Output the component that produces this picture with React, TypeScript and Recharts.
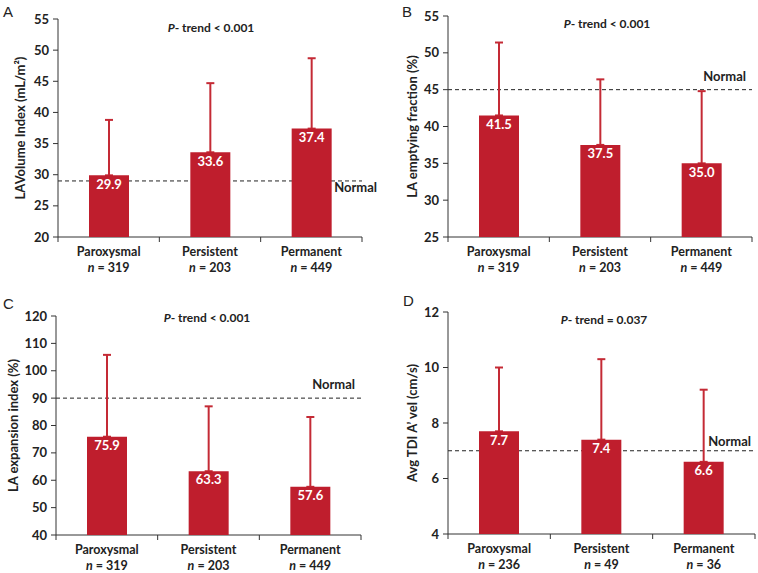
import React from 'react';
import { BarChart, Bar, XAxis, YAxis, ReferenceLine, ErrorBar, LabelList, Label } from 'recharts';

const CATEGORIES = ['Paroxysmal', 'Persistent', 'Permanent'];
const N_ABC = [319, 203, 449];
const N_D = [236, 49, 36];

const LAVI_MEAN = [29.9, 33.6, 37.4];
const LAVI_SD = [8.9, 11.1, 11.3];
const LAVI_TICKS = [20, 25, 30, 35, 40, 45, 50, 55];

const LAEF_MEAN = [41.5, 37.5, 35.0];
const LAEF_SD = [9.9, 8.9, 9.8];
const LAEF_TICKS = [25, 30, 35, 40, 45, 50, 55];

const LAEI_MEAN = [75.9, 63.3, 57.6];
const LAEI_SD = [29.9, 23.7, 25.5];
const LAEI_TICKS = [40, 50, 60, 70, 80, 90, 100, 110, 120];

const TDI_MEAN = [7.7, 7.4, 6.6];
const TDI_SD = [2.3, 2.9, 2.6];
const TDI_TICKS = [4, 6, 8, 10, 12];

const FONT = 'Lato, "Open Sans", sans-serif';
const BAR_RED = '#BF1E2D';
const ERR_RED = '#C42A35';
const INK = '#222';

const buildData = (means: number[], sds: number[], ns: number[]) =>
  means.map((m, i) => ({ x: i + 0.5, mean: m, err: [0, sds[i]], name: CATEGORIES[i], n: ns[i] }));

const panels = [
  {
    letter: 'A', left: 0, top: 0, height: 286,
    margin: { top: 19, right: 17, bottom: 19, left: 8 },
    data: buildData(LAVI_MEAN, LAVI_SD, N_ABC), ticks: LAVI_TICKS, normal: 29,
    yLabel: 'LAVolume Index (mL/m²)', yLabelX: 20,
    normalDx: 15, normalDy: 11, trend: '< 0.001', trendX: 211, trendY: 28,
    letterX: 3, letterY: 4,
  },
  {
    letter: 'B', left: 379, top: 0, height: 286,
    margin: { top: 16, right: 6, bottom: 19, left: 19 },
    data: buildData(LAEF_MEAN, LAEF_SD, N_ABC), ticks: LAEF_TICKS, normal: 45,
    yLabel: 'LA emptying fraction (%)', yLabelX: 33,
    normalDx: -6, normalDy: -9, trend: '< 0.001', trendX: 228, trendY: 24,
    letterX: 23, letterY: 4,
  },
  {
    letter: 'C', left: 0, top: 285, height: 288,
    margin: { top: 31, right: 18, bottom: 8, left: 6 },
    data: buildData(LAEI_MEAN, LAEI_SD, N_ABC), ticks: LAEI_TICKS, normal: 90,
    yLabel: 'LA expansion index (%)', yLabelX: 13,
    normalDx: -6, normalDy: -9, trend: '< 0.001', trendX: 207, trendY: 33,
    letterX: 3, letterY: 11,
  },
  {
    letter: 'D', left: 379, top: 285, height: 288,
    margin: { top: 27, right: 3, bottom: 9, left: 19 },
    data: buildData(TDI_MEAN, TDI_SD, N_D), ticks: TDI_TICKS, normal: 7,
    yLabel: 'Avg TDI A’ vel (cm/s)', yLabelX: 33,
    normalDx: -4, normalDy: -5, trend: '= 0.037', trendX: 225, trendY: 35,
    letterX: 24, letterY: 8,
  },
];

const WIDTH = 379;
const Y_AXIS_W = 50;
const X_AXIS_H = 30;

const XTick = (props: any) => {
  const { x, y, payload, catW, data } = props;
  const i = payload.value;
  if (i >= 3) return <g />;
  const d = data[i];
  const cx = x + catW / 2;
  return (
    <text x={cx} y={y} textAnchor="middle" fontFamily={FONT} fontWeight={700} fontSize={12.5} fill={INK}>
      <tspan x={cx} dy={12}>{d.name}</tspan>
      <tspan x={cx} dy={16}><tspan fontStyle="italic">n</tspan> = {d.n}</tspan>
    </text>
  );
};

const Panel = ({ p }: { p: any }) => {
  const plotW = WIDTH - p.margin.left - p.margin.right - Y_AXIS_W;
  const catW = plotW / 3;
  const min = p.ticks[0];
  const max = p.ticks[p.ticks.length - 1];
  // bars sit in a second chart laid over the first, so they hide the dashed normal line
  const topMargin = {
    top: p.margin.top,
    right: p.margin.right,
    bottom: p.margin.bottom + X_AXIS_H,
    left: p.margin.left + Y_AXIS_W,
  };
  return (
    <div style={{ position: 'absolute', left: p.left, top: p.top, width: WIDTH, height: p.height }}>
      <div style={{ position: 'absolute', left: 0, top: 0 }}>
        <BarChart width={WIDTH} height={p.height} data={p.data} margin={p.margin}>
          <XAxis
            type="number"
            dataKey="x"
            domain={[0, 3]}
            ticks={[0, 1, 2, 3]}
            interval={0}
            height={X_AXIS_H}
            stroke="#333"
            tickSize={5}
            tick={<XTick catW={catW} data={p.data} />}
          />
          <YAxis
            type="number"
            domain={[min, max]}
            ticks={p.ticks}
            interval={0}
            width={Y_AXIS_W}
            stroke="#333"
            tickSize={5}
            tickMargin={4}
            allowDataOverflow
            tick={{ fill: INK, fontSize: 13, fontWeight: 700, fontFamily: FONT }}
          >
            <Label
              content={(lp: any) => {
                const vb = lp.viewBox || { y: p.margin.top, height: 218 };
                const cy = vb.y + vb.height / 2;
                return (
                  <text
                    x={p.yLabelX}
                    y={cy}
                    transform={`rotate(-90 ${p.yLabelX} ${cy})`}
                    textAnchor="middle"
                    dominantBaseline="central"
                    fontFamily={FONT}
                    fontWeight={700}
                    fontSize={13}
                    fill={INK}
                  >
                    {p.yLabel}
                  </text>
                );
              }}
            />
          </YAxis>
          <ReferenceLine
            y={p.normal}
            stroke={INK}
            strokeDasharray="4 3"
            strokeWidth={1}
            label={(lp: any) => {
              const vb = lp.viewBox;
              if (!vb) return <g />;
              return (
                <text
                  x={vb.x + vb.width + p.normalDx}
                  y={vb.y + p.normalDy}
                  textAnchor="end"
                  fontFamily={FONT}
                  fontWeight={700}
                  fontSize={13}
                  fill={INK}
                >
                  Normal
                </text>
              );
            }}
          />
          <Bar dataKey="mean" fill="none" barSize={40} isAnimationActive={false}>
            <ErrorBar dataKey="err" direction="y" width={4} stroke={ERR_RED} strokeWidth={2} />
          </Bar>
        </BarChart>
      </div>
      <div style={{ position: 'absolute', left: 0, top: 0, pointerEvents: 'none' }}>
        <BarChart width={WIDTH} height={p.height} data={p.data} margin={topMargin}>
          <XAxis type="number" dataKey="x" domain={[0, 3]} hide />
          <YAxis type="number" domain={[min, max]} allowDataOverflow hide />
          <Bar dataKey="mean" fill={BAR_RED} barSize={40} isAnimationActive={false}>
            <LabelList
              dataKey="mean"
              position="insideTop"
              offset={4}
              fill="#fff"
              fontSize={13}
              fontWeight={700}
              fontFamily={FONT}
              formatter={(v: any) => Number(v).toFixed(1)}
            />
          </Bar>
        </BarChart>
      </div>
      <div
        style={{
          position: 'absolute', left: p.letterX, top: p.letterY,
          fontFamily: '"Liberation Sans", Arial, sans-serif', fontSize: 15, lineHeight: 1, color: INK,
        }}
      >
        {p.letter}
      </div>
      <div
        style={{
          position: 'absolute', left: p.trendX - 60, top: p.trendY - 8, width: 120, textAlign: 'center',
          fontFamily: FONT, fontSize: 12, fontWeight: 700, lineHeight: '16px', color: INK, whiteSpace: 'nowrap',
        }}
      >
        <i>P</i>- trend {p.trend}
      </div>
    </div>
  );
};

export default function App() {
  return (
    <div style={{ position: 'absolute', left: 0, top: 0, width: 758, height: 573, background: '#fff' }}>
      {panels.map((p) => (
        <Panel key={p.letter} p={p} />
      ))}
    </div>
  );
}
